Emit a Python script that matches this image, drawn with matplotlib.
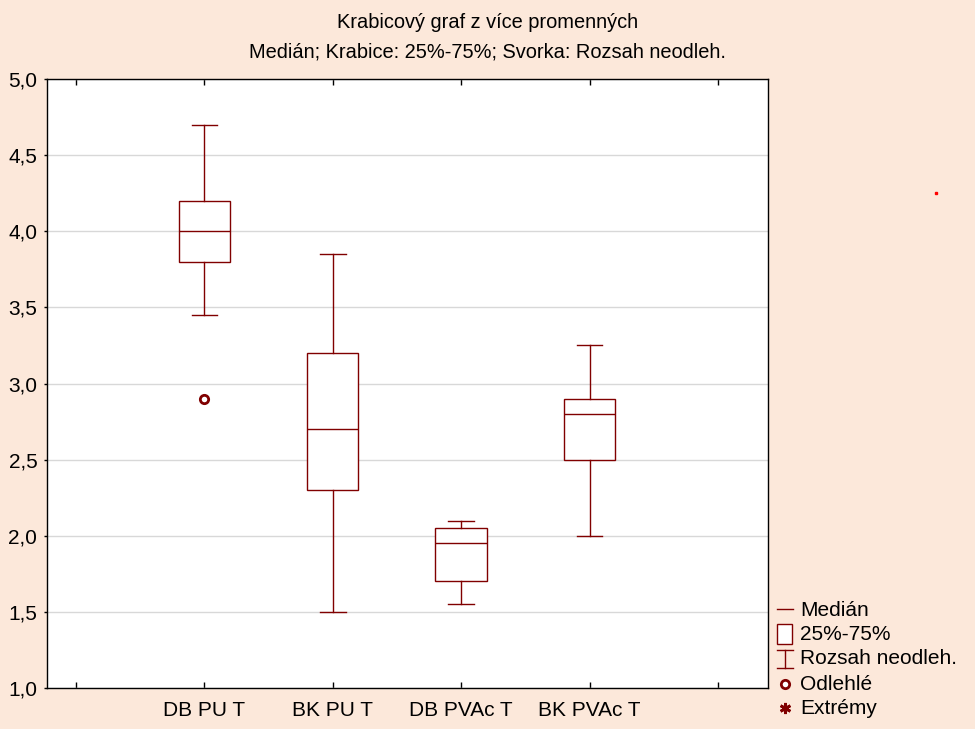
import matplotlib.pyplot as plt
from matplotlib.lines import Line2D
from matplotlib.patches import Rectangle

plt.rcParams['font.family'] = ['Liberation Sans', 'DejaVu Sans']

categories = ['DB PU T', 'BK PU T', 'DB PVAc T', 'BK PVAc T']
whisker_low = [3.45, 1.5, 1.55, 2.0]
q1 = [3.8, 2.3, 1.7, 2.5]
medians = [4.0, 2.7, 1.95, 2.8]
q3 = [4.2, 3.2, 2.05, 2.9]
whisker_high = [4.7, 3.85, 2.1, 3.25]
outliers = [[2.9], [], [], []]

legend_labels = ['Medián', '25%-75%', 'Rozsah neodleh.', 'Odlehlé', 'Extrémy']

bg = '#FCE8DA'
red = '#800000'

fig = plt.figure(figsize=(9.75, 7.29), dpi=100, facecolor=bg)
ax = fig.add_axes([47 / 975, 1 - 688 / 729, (768 - 47) / 975, (688 - 79) / 729])

stats = []
for i, name in enumerate(categories):
    stats.append(dict(label=name, med=medians[i], q1=q1[i], q3=q3[i],
                      whislo=whisker_low[i], whishi=whisker_high[i],
                      fliers=outliers[i]))

pos = list(range(1, len(categories) + 1))
ax.bxp(stats, positions=pos, widths=0.4, capwidths=0.2, patch_artist=True,
       boxprops=dict(facecolor='white', edgecolor=red, linewidth=1.0),
       medianprops=dict(color=red, linewidth=1.0),
       whiskerprops=dict(color=red, linewidth=1.0),
       capprops=dict(color=red, linewidth=1.0),
       flierprops=dict(marker='o', markerfacecolor='white', markeredgecolor=red,
                       markersize=6, markeredgewidth=2.0))

ax.set_xlim(-0.226, 5.39)
ax.set_ylim(1.0, 5.0)
ax.set_xticks([0, 1, 2, 3, 4, 5])
ax.set_xticklabels([''] + categories + [''], fontsize=15)
ax.set_yticks([1.0, 1.5, 2.0, 2.5, 3.0, 3.5, 4.0, 4.5, 5.0])
ax.set_yticklabels([f'{v:.1f}'.replace('.', ',') for v in ax.get_yticks()], fontsize=15)
ax.tick_params(axis='x', direction='in', length=4, width=1, top=True, pad=9)
ax.tick_params(axis='y', direction='out', length=2, width=1, pad=5)
ax.yaxis.grid(True, color='#D8D8D8', linewidth=1.0)
ax.set_axisbelow(True)
for s in ax.spines.values():
    s.set_linewidth(1.0)
    s.set_color('black')

fig.text(0.5, 1 - 22 / 729, 'Krabicový graf z více promenných', ha='center', va='center', fontsize=14.4)
fig.text(0.5, 1 - 52 / 729, 'Medián; Krabice: 25%-75%; Svorka: Rozsah neodleh.',
         ha='center', va='center', fontsize=14.4)

# legend drawn by hand, in pixel coords of the figure
def fx(x):
    return x / 975

def fy(y):
    return 1 - y / 729

lx, tx = 785, 800
fig.add_artist(Line2D([fx(777), fx(793)], [fy(609), fy(609)], color=red, lw=1.0))
fig.add_artist(Rectangle((fx(777), fy(644)), fx(15), 20 / 729, facecolor='white',
                         edgecolor=red, lw=1.0))
fig.add_artist(Line2D([fx(lx), fx(lx)], [fy(650), fy(668)], color=red, lw=1.0))
fig.add_artist(Line2D([fx(777), fx(793)], [fy(650), fy(650)], color=red, lw=1.0))
fig.add_artist(Line2D([fx(777), fx(793)], [fy(668), fy(668)], color=red, lw=1.0))
fig.add_artist(Line2D([fx(lx)], [fy(684)], marker='o', markersize=6, markerfacecolor='white',
                      markeredgecolor=red, markeredgewidth=2.0, linestyle='none'))
fig.add_artist(Line2D([fx(lx)], [fy(708)], marker=(6, 2, 0), markersize=8,
                      markeredgecolor=red, markeredgewidth=2.0, linestyle='none'))
for lab, y in zip(legend_labels, [610, 634, 659, 684, 709]):
    fig.text(fx(tx), fy(y), lab, ha='left', va='center', fontsize=15)

fig.add_artist(Line2D([fx(936)], [fy(193)], marker='s', markersize=1.5, color='red',
                      linestyle='none'))

fig.savefig('out.png', dpi=100, facecolor=bg)
